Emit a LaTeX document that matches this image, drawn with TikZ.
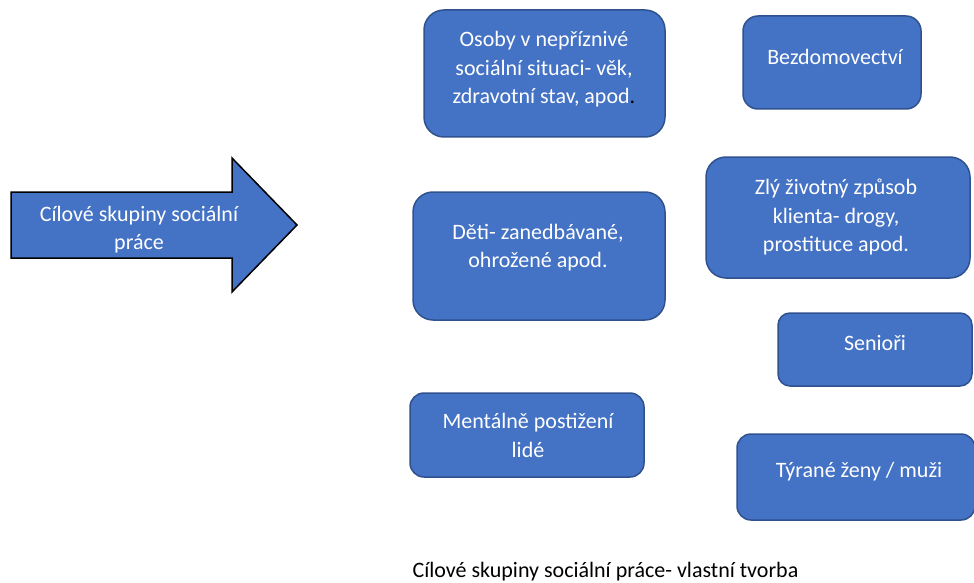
\documentclass[tikz,border=0pt]{standalone}
\usepackage{fontspec}
\setmainfont{Carlito}
\usetikzlibrary{positioning}
\definecolor{boxblue}{HTML}{4472C4}
\definecolor{boxedge}{HTML}{2F528F}

\begin{document}
\begin{tikzpicture}
[every node/.style={inner sep=0pt},
 group/.style={rectangle, fill=boxblue, line width=1.5pt, draw=boxedge},
 label text/.style={align=center, font=\fontsize{22}{28.5}\selectfont, text=white}]
\useasboundingbox (0pt, 0pt) rectangle (974pt, -583pt);
% arrow on the left
\draw [line width=1.5pt, fill=boxblue, draw=black] (11pt, -192pt) -- (232pt, -192pt) -- (232pt, -158pt) -- (297pt, -225pt) -- (232pt, -292pt) -- (232pt, -258pt) -- (11pt, -258pt) -- cycle;
\begin{scope}
\clip (11pt, -192pt) rectangle (300pt, -252pt);
\node (cil) [label text] at (139pt, -229.5pt) {Cílové skupiny sociální\\práce};
\end{scope}
% boxes
\node (osoby) [group, rounded corners=20pt, minimum width=241pt, minimum height=127pt] at (544.5pt, -73.5pt) {};
\node (bezdom) [group, rounded corners=15pt, minimum width=178pt, minimum height=93pt] at (832pt, -62.5pt) {};
\node (zly) [group, rounded corners=20pt, minimum width=264pt, minimum height=121pt] at (838pt, -217.5pt) {};
\node (deti) [group, rounded corners=20pt, minimum width=252pt, minimum height=128pt] at (539pt, -256pt) {};
\node (senior) [group, rounded corners=12pt, minimum width=194pt, minimum height=73pt] at (875pt, -349.5pt) {};
\node (mental) [group, rounded corners=14pt, minimum width=234pt, minimum height=84pt] at (527pt, -435pt) {};
\node (tyrane) [group, rounded corners=14pt, minimum width=238pt, minimum height=86pt] at (856pt, -477pt) {};
% texts
\node (osobyt) [label text] at (544pt, -69.5pt) {Osoby v nepříznivé\\sociální situaci- věk,\\zdravotní stav, apod\textcolor{black}{.}};
\node (bezdomt) [label text] at (835pt, -57pt) {Bezdomovectví};
\node (zlyt) [label text] at (836pt, -217pt) {Zlý životný způsob\\klienta- drogy,\\prostituce apod.};
\node (detit) [label text] at (538pt, -247.5pt) {Děti- zanedbávané,\\ohrožené apod.};
\node (seniort) [label text] at (875pt, -343.5pt) {Senioři};
\node (mentalt) [label text] at (528pt, -435.5pt) {Mentálně postižení\\lidé};
\node (tyranet) [label text] at (859pt, -471.5pt) {Týrané ženy / muži};
% caption
\node (caption) [font=\fontsize{22}{26}\selectfont, text=black] at (605.5pt, -572pt) {Cílové skupiny sociální práce- vlastní tvorba};
\end{tikzpicture}
\end{document}
